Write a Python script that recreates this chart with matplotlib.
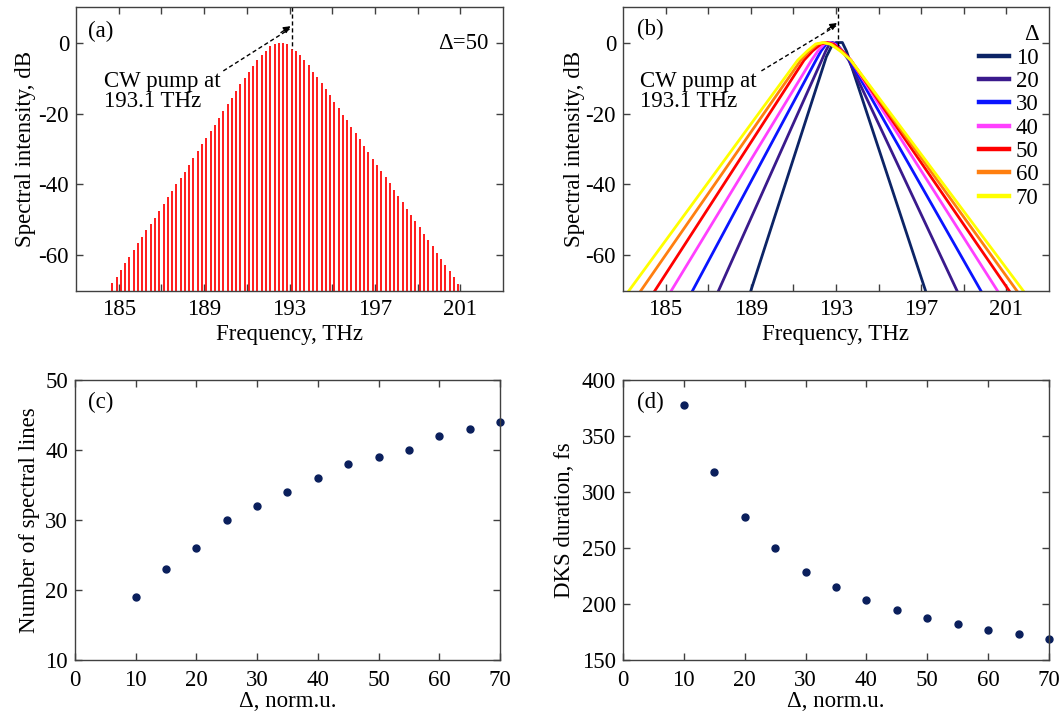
import numpy as np
import matplotlib
matplotlib.use('Agg')
import matplotlib.pyplot as plt
from matplotlib.ticker import FixedLocator

plt.rcParams['font.family'] = ['Liberation Serif', 'DejaVu Serif']
plt.rcParams['font.size'] = 16.5
plt.rcParams['axes.unicode_minus'] = False

# (a) comb lines for delta = 50
comb_freq = [184.7, 184.9, 185.1, 185.3, 185.5, 185.7, 185.9, 186.1, 186.3, 186.5,
             186.7, 186.9, 187.1, 187.3, 187.5, 187.7, 187.9, 188.1, 188.3, 188.5,
             188.7, 188.9, 189.1, 189.3, 189.5, 189.7, 189.9, 190.1, 190.3, 190.5,
             190.7, 190.9, 191.1, 191.3, 191.5, 191.7, 191.9, 192.1, 192.3, 192.5,
             192.7, 192.9, 193.1, 193.3, 193.5, 193.7, 193.9, 194.1, 194.3, 194.5,
             194.7, 194.9, 195.1, 195.3, 195.5, 195.7, 195.9, 196.1, 196.3, 196.5,
             196.7, 196.9, 197.1, 197.3, 197.5, 197.7, 197.9, 198.1, 198.3, 198.5,
             198.7, 198.9, 199.1, 199.3, 199.5, 199.7, 199.9, 200.1, 200.3, 200.5,
             200.7, 200.9]
comb_db = [-67.8, -66.1, -64.0, -62.1, -60.3, -58.4, -56.6, -54.8, -52.9, -51.0,
           -49.3, -47.4, -45.5, -43.6, -41.8, -40.0, -38.2, -36.4, -34.4, -32.5,
           -30.6, -28.7, -26.8, -25.0, -23.1, -21.2, -19.3, -17.4, -15.5, -13.7,
           -11.8, -9.9, -8.3, -6.6, -5.0, -3.6, -2.4, -1.1, -0.4, 0.0,
           0.0, -0.5, -1.7, -2.4, -3.5, -5.0, -6.4, -8.2, -9.8, -11.5,
           -13.2, -14.9, -16.7, -18.5, -20.3, -21.9, -23.8, -25.5, -27.3, -29.1,
           -30.9, -32.7, -34.4, -36.2, -38.0, -39.7, -41.5, -43.2, -45.0, -46.8,
           -48.6, -50.3, -52.1, -53.9, -55.6, -57.3, -59.2, -60.9, -62.6, -64.4,
           -66.2, -67.9]

# (b) spectral envelopes
b_deltas = [10, 20, 30, 40, 50, 60, 70]
b_colors = ['#0c2466', '#3a1a8c', '#0a14ff', '#ff40ff', '#ff0000', '#ff7f10', '#ffff00']
b_freq = [
    [189.0, 192.55, 192.8, 193.0, 193.3, 193.5, 197.21],
    [187.48, 192.33, 192.52, 192.7, 192.85, 193.05, 193.3, 193.6, 198.69],
    [186.26, 192.06, 192.3, 192.55, 192.75, 193.0, 193.3, 193.65, 199.81],
    [185.26, 191.85, 192.15, 192.45, 192.7, 192.95, 193.3, 193.7, 200.59],
    [184.49, 191.5, 191.9, 192.3, 192.6, 192.9, 193.3, 193.7, 201.14],
    [183.83, 191.35, 191.75, 192.15, 192.45, 192.8, 193.25, 193.7, 201.5],
    [183.27, 191.2, 191.65, 192.05, 192.4, 192.75, 193.2, 193.7, 201.8],
]
b_level = [
    [-70, -4, -1, 0, 0, -2.5, -70],
    [-70, -5.0, -2.4, -0.4, 0, -0.5, -2.4, -5.0, -70],
    [-70, -5.0, -2.4, -0.4, 0, -0.5, -2.4, -5.0, -70],
    [-70, -5.0, -2.4, -0.4, 0, -0.5, -2.4, -5.0, -70],
    [-70, -5.0, -2.4, -0.4, 0, -0.5, -2.4, -5.0, -70],
    [-70, -5.0, -2.4, -0.4, 0, -0.5, -2.4, -5.0, -70],
    [-70, -5.0, -2.4, -0.4, 0, -0.5, -2.4, -5.0, -70],
]

# (c), (d)
delta = [10, 15, 20, 25, 30, 35, 40, 45, 50, 55, 60, 65, 70]
n_lines = [19, 23, 26, 30, 32, 34, 36, 38, 39, 40, 42, 43, 44]
dks_fs = [378, 318, 278, 250, 229, 215, 204, 195, 188, 182, 177, 173, 169]

SPINE = '#404040'
DOT = '#0a1f5c'


def style_axes(ax, xpad=6):
    for s in ax.spines.values():
        s.set_color(SPINE)
        s.set_linewidth(1.0)
    ax.tick_params(which='both', direction='in', top=True, right=True,
                   length=5, width=1, color=SPINE, pad=5)
    ax.tick_params(axis='x', pad=xpad)


def spectrum_axes(ax, ylabelpad):
    style_axes(ax, xpad=6)
    ax.set_xlim(183, 203)
    ax.set_ylim(-70, 10)
    ax.set_xticks([185, 189, 193, 197, 201])
    ax.xaxis.set_minor_locator(FixedLocator([187, 191, 195, 199]))
    ax.set_yticks([0, -20, -40, -60])
    ax.set_xlabel('Frequency, THz', labelpad=3)
    ax.set_ylabel('Spectral intensity, dB', labelpad=ylabelpad)


def pump_marker(ax, x0, y0, tip_y, line_bottom):
    ax.plot([193.1, 193.1], [10, line_bottom], ls=(0, (3, 2)), color='black', lw=1)
    ax.plot([x0, 193.0], [y0, tip_y - 0.8], ls=(0, (3, 2)), color='black', lw=1)
    ax.annotate('', xy=(193.05, tip_y), xytext=(192.6, tip_y - 1.8),
                arrowprops=dict(arrowstyle='-|>', color='black', lw=1,
                                mutation_scale=10, shrinkA=0, shrinkB=0))


fig = plt.figure(figsize=(10.62, 7.16), dpi=100)
ax_a = fig.add_axes([0.0716, 0.5936, 0.4020, 0.3966])
ax_b = fig.add_axes([0.5866, 0.5936, 0.4011, 0.3966])
ax_c = fig.add_axes([0.0706, 0.0780, 0.4002, 0.3913])
ax_d = fig.add_axes([0.5866, 0.0780, 0.4011, 0.3913])

# Panel (a)
ax_a.vlines(comb_freq, -70, comb_db, color='#ff0000', lw=1.25)
spectrum_axes(ax_a, ylabelpad=2)
pump_marker(ax_a, 189.9, -8.0, 4.6, -1.7)
ax_a.text(184.3, -8.0, 'CW pump at\n193.1 THz', ha='left', va='top', linespacing=0.95)
ax_a.text(0.028, 0.915, '(a)', transform=ax_a.transAxes, ha='left', va='center')
ax_a.text(0.965, 0.87, 'Δ=50', transform=ax_a.transAxes, ha='right', va='center')

# Panel (b)
for d, f, lv, c in zip(b_deltas, b_freq, b_level, b_colors):
    ax_b.plot(f, lv, color=c, lw=2.0, label=str(d), solid_joinstyle='round')
spectrum_axes(ax_b, ylabelpad=0)
pump_marker(ax_b, 189.5, -8.0, 5.5, -1.0)
ax_b.text(183.8, -8.0, 'CW pump at\n193.1 THz', ha='left', va='top', linespacing=0.95)
ax_b.text(0.033, 0.92, '(b)', transform=ax_b.transAxes, ha='left', va='center')
leg = ax_b.legend(loc='upper right', bbox_to_anchor=(1.0, 0.975), frameon=False,
                  title='Δ', title_fontsize=16.5, handlelength=1.3,
                  handletextpad=0.3, labelspacing=0.1, borderaxespad=0.25,
                  borderpad=0.2, alignment='right')
for h in leg.get_lines():
    h.set_linewidth(3.2)

# Panel (c)
ax_c.plot(delta, n_lines, 'o', color=DOT, ms=5.0, clip_on=False)
style_axes(ax_c, xpad=7)
ax_c.set_xlim(0, 70)
ax_c.set_ylim(10, 50)
ax_c.set_xticks(range(0, 71, 10))
ax_c.set_yticks(range(10, 51, 10))
ax_c.set_xlabel('Δ, norm.u.', labelpad=0)
ax_c.set_ylabel('Number of spectral lines', labelpad=4)
ax_c.text(0.03, 0.92, '(c)', transform=ax_c.transAxes, ha='left', va='center')

# Panel (d)
ax_d.plot(delta, dks_fs, 'o', color=DOT, ms=5.0, clip_on=False)
style_axes(ax_d, xpad=7)
ax_d.set_xlim(0, 70)
ax_d.set_ylim(150, 400)
ax_d.set_xticks(range(0, 71, 10))
ax_d.set_yticks(range(150, 401, 50))
ax_d.set_xlabel('Δ, norm.u.', labelpad=0)
ax_d.set_ylabel('DKS duration, fs', labelpad=5)
ax_d.text(0.033, 0.92, '(d)', transform=ax_d.transAxes, ha='left', va='center')

fig.savefig('out.png', dpi=100)
